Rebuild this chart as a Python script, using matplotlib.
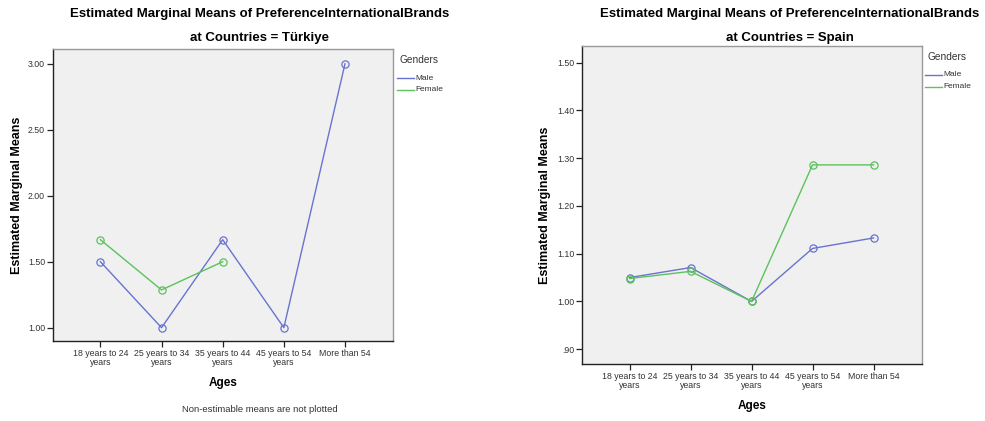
import numpy as np
import matplotlib
matplotlib.use("Agg")
import matplotlib.pyplot as plt

plt.rcParams['font.family'] = ['Liberation Sans', 'DejaVu Sans']

age_labels = ["18 years to 24\nyears", "25 years to 34\nyears", "35 years to 44\nyears",
              "45 years to 54\nyears", "More than 54"]

turkiye_male = [1.50, 1.00, 1.667, 1.00, 3.00]
turkiye_female = [1.667, 1.286, 1.50, np.nan, np.nan]

spain_male = [1.050, 1.071, 1.000, 1.111, 1.133]
spain_female = [1.048, 1.063, 1.000, 1.286, 1.286]

turkiye_ticks = [1.00, 1.50, 2.00, 2.50, 3.00]
turkiye_ticklabels = ["1.00", "1.50", "2.00", "2.50", "3.00"]
spain_ticks = [0.90, 1.00, 1.10, 1.20, 1.30, 1.40, 1.50]
spain_ticklabels = [".90", "1.00", "1.10", "1.20", "1.30", "1.40", "1.50"]

MALE_C = "#6874cf"
FEMALE_C = "#5cc25c"
BG = "#f0f0f0"
TICK_C = "#333333"

fig = plt.figure(figsize=(9.85, 4.21), dpi=100)
W, H = 985, 421


def ax_from_px(x0, y0, x1, y1):
    return fig.add_axes([x0 / W, 1 - y1 / H, (x1 - x0) / W, (y1 - y0) / H])


def draw_panel(ax, male, female, yticks, yticklabels, ylim, country, title_cx,
               ylabel_x, xlabel_y, legend_x, note=None):
    x = np.arange(len(age_labels))
    ax.set_facecolor(BG)
    for vals, c, name in ((male, MALE_C, "Male"), (female, FEMALE_C, "Female")):
        ax.plot(x, vals, color=c, lw=1.0, marker="o", ms=5.2, mfc="none",
                mec=c, mew=0.9, label=name)
    ax.set_xlim(-0.78, 4.79)
    ax.set_ylim(*ylim)
    ax.set_xticks(x)
    ax.set_xticklabels(age_labels, fontsize=6.3, color=TICK_C, linespacing=1.1)
    ax.set_yticks(yticks)
    ax.set_yticklabels(yticklabels, fontsize=6.3, color=TICK_C)
    ax.tick_params(axis="both", length=4, width=0.9, color="#222222", pad=1.5)
    for s in ("top", "right"):
        ax.spines[s].set_color("#999999")
        ax.spines[s].set_linewidth(1.0)
    for s in ("left", "bottom"):
        ax.spines[s].set_color("#222222")
        ax.spines[s].set_linewidth(1.0)

    fig.text(title_cx / W, 1 - 14 / H,
             "Estimated Marginal Means of PreferenceInternationalBrands",
             ha="center", va="center", fontsize=9.5, fontweight="bold")
    fig.text(title_cx / W, 1 - 38 / H, "at Countries = " + country,
             ha="center", va="center", fontsize=9.5, fontweight="bold")

    bb = ax.get_position()
    fig.text(ylabel_x / W, bb.y0 + bb.height / 2, "Estimated Marginal Means",
             rotation=90, ha="center", va="center", fontsize=9, fontweight="bold")
    fig.text((bb.x0 + bb.x1) / 2, 1 - xlabel_y / H, "Ages",
             ha="center", va="center", fontsize=8.5, fontweight="bold")
    if note:
        fig.text(title_cx / W, 1 - 409 / H, note, ha="center", va="center",
                 fontsize=6.8, color="#333333")

    top_px = (1 - bb.y1) * H
    fig.text(legend_x / W, 1 - (top_px + 11) / H, "Genders",
             ha="left", va="center", fontsize=7.3, color="#333333")
    for i, (c, name) in enumerate(((MALE_C, "Male"), (FEMALE_C, "Female"))):
        yy = 1 - (top_px + 29 + 11.5 * i) / H
        fig.add_artist(plt.Line2D([(legend_x - 2) / W, (legend_x + 15) / W],
                                  [yy, yy], color=c, lw=1.0))
        fig.text((legend_x + 16) / W, yy, name, ha="left", va="center",
                 fontsize=6.0, color="#333333")


ax1 = ax_from_px(52.7, 49.3, 393.3, 341)
draw_panel(ax1, turkiye_male, turkiye_female, turkiye_ticks, turkiye_ticklabels,
           (0.899, 3.11), "Türkiye", 260, 17, 383, 399,
           note="Non-estimable means are not plotted")

ax2 = ax_from_px(582, 46, 921.7, 364)
draw_panel(ax2, spain_male, spain_female, spain_ticks, spain_ticklabels,
           (0.869, 1.535), "Spain", 790, 545, 406, 927)

fig.savefig("out.png", dpi=100)
